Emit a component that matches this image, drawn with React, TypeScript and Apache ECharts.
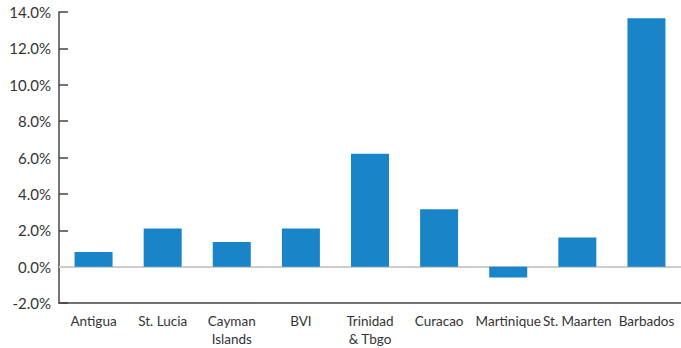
import React, { useEffect, useRef } from "react";
import * as echarts from "echarts";

const categories = [
  "Antigua",
  "St. Lucia",
  "Cayman\nIslands",
  "BVI",
  "Trinidad\n& Tbgo",
  "Curacao",
  "Martinique",
  "St. Maarten",
  "Barbados",
];
const values = [0.8, 2.1, 1.35, 2.1, 6.2, 3.15, -0.6, 1.6, 13.65];

const FONT = "Lato";

export default function App() {
  const ref = useRef<HTMLDivElement>(null);
  useEffect(() => {
    if (!ref.current) return;
    const chart = echarts.init(ref.current, null, { renderer: "svg" });
    chart.setOption({
      animation: false,
      grid: { left: 59, top: 12, width: 624, bottom: 43 },
      xAxis: {
        type: "category",
        data: categories,
        axisLine: { onZero: false, lineStyle: { color: "#444", width: 1.5 } },
        axisTick: { inside: true, length: 9, lineStyle: { color: "#444", width: 1.5 } },
        axisLabel: {
          color: "#333",
          fontFamily: FONT,
          fontSize: 13.5,
          margin: 9,
          lineHeight: 18,
          interval: 0,
        },
      },
      yAxis: {
        type: "value",
        min: -2,
        max: 14,
        interval: 2,
        axisLine: { show: true, lineStyle: { color: "#444", width: 1.5 } },
        axisTick: { show: true, inside: true, length: 9, lineStyle: { color: "#444", width: 1.5 } },
        splitLine: { show: false },
        axisLabel: {
          color: "#333",
          fontFamily: FONT,
          fontSize: 15,
          margin: 8,
          formatter: (v: number) => `${v.toFixed(1)}%`,
        },
      },
      series: [
        {
          type: "bar",
          data: values,
          barWidth: "55%",
          itemStyle: { color: "#1984C8" },
          markLine: {
            silent: true,
            symbol: "none",
            label: { show: false },
            lineStyle: { color: "#cccccc", width: 2, type: "solid" },
            data: [{ yAxis: 0 }],
            z: 1,
          },
        },
      ],
    });
    return () => chart.dispose();
  }, []);
  return (
    <div
      ref={ref}
      style={{ position: "absolute", left: 0, top: 0, width: 681, height: 348 }}
    />
  );
}
